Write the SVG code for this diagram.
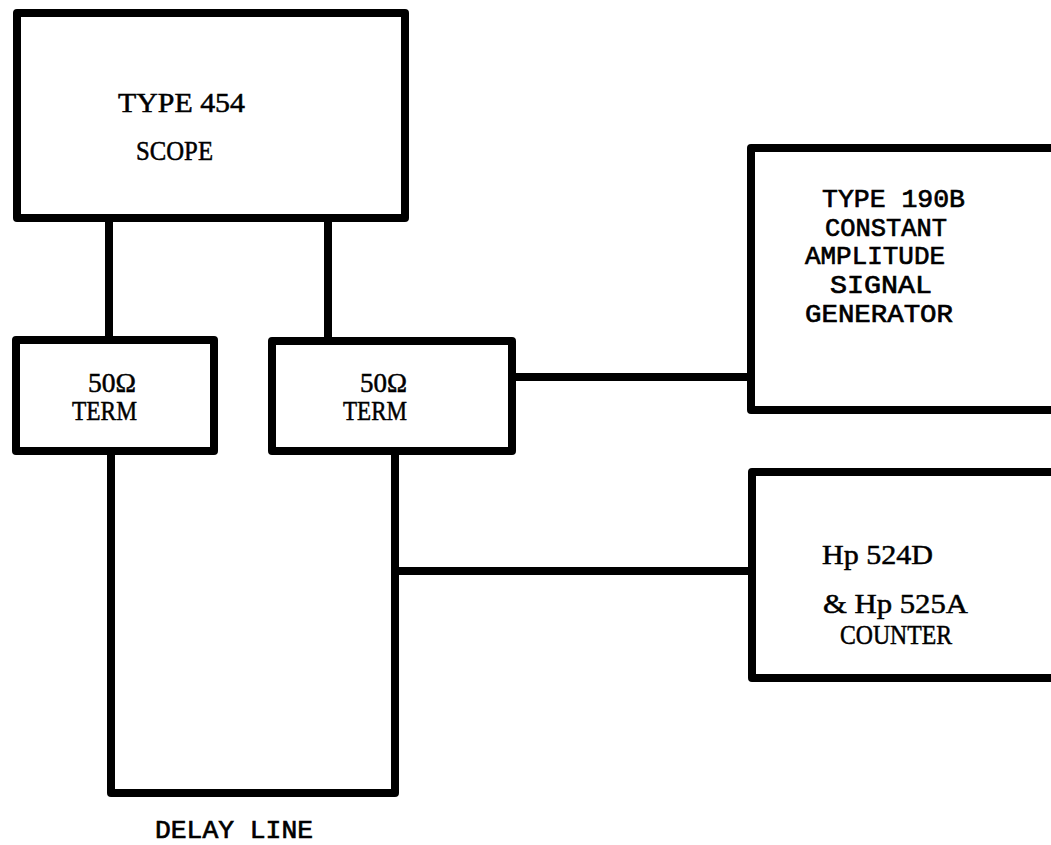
<svg xmlns="http://www.w3.org/2000/svg" width="1051" height="845" viewBox="0 0 1051 845">
  <style>
    .box { fill: none; stroke: #000; stroke-width: 8; stroke-linejoin: round; }
    .wire { fill: none; stroke: #000; stroke-width: 8; stroke-linejoin: round; }
    .serif { font-family: "Liberation Serif", "Times New Roman", serif; font-size: 27px; fill: #000; stroke: #000; stroke-width: 0.5; }
    .mono { font-family: "Liberation Mono", "Courier New", monospace; font-size: 26px; fill: #000; stroke: #000; stroke-width: 0.7; }
  </style>
  <rect x="0" y="0" width="1051" height="845" fill="#fff"/>
  <g id="connectors">
    <path class="wire" d="M109,218 V340"/>
    <path class="wire" d="M328,218 V341"/>
    <path class="wire" d="M512,377 H751"/>
    <path class="wire" d="M111,451 V793 H395 V451"/>
    <path class="wire" d="M395,571 H752"/>
  </g>
  <g id="scope">
    <rect class="box" x="17" y="13" width="388" height="205"/>
    <text class="serif" x="118" y="112" font-size="28" textLength="127" lengthAdjust="spacingAndGlyphs">TYPE 454</text>
    <text class="serif" x="136" y="160" font-size="30" textLength="77" lengthAdjust="spacingAndGlyphs">SCOPE</text>
  </g>
  <g id="term1">
    <rect class="box" x="16" y="340" width="198" height="111"/>
    <text class="serif" x="88" y="392" font-size="23" textLength="48" lengthAdjust="spacingAndGlyphs">50Ω</text>
    <text class="serif" x="72" y="420" font-size="23" textLength="65" lengthAdjust="spacingAndGlyphs">TERM</text>
  </g>
  <g id="term2">
    <rect class="box" x="272" y="341" width="240" height="110"/>
    <text class="serif" x="360" y="392" font-size="23" textLength="47" lengthAdjust="spacingAndGlyphs">50Ω</text>
    <text class="serif" x="343" y="420" font-size="23" textLength="64" lengthAdjust="spacingAndGlyphs">TERM</text>
  </g>
  <g id="generator">
    <rect class="box" x="751" y="148" width="320" height="262"/>
    <text class="mono" x="822" y="207" textLength="143" lengthAdjust="spacingAndGlyphs">TYPE 190B</text>
    <text class="mono" x="825" y="236" textLength="122" lengthAdjust="spacingAndGlyphs">CONSTANT</text>
    <text class="mono" x="805" y="264" textLength="140" lengthAdjust="spacingAndGlyphs">AMPLITUDE</text>
    <text class="mono" x="830" y="293" textLength="102" lengthAdjust="spacingAndGlyphs">SIGNAL</text>
    <text class="mono" x="805" y="322" textLength="148" lengthAdjust="spacingAndGlyphs">GENERATOR</text>
  </g>
  <g id="counter">
    <rect class="box" x="752" y="472" width="320" height="206"/>
    <text class="serif" x="822" y="564" textLength="111" lengthAdjust="spacingAndGlyphs">Hp 524D</text>
    <text class="serif" x="823" y="613" textLength="145" lengthAdjust="spacingAndGlyphs">&amp; Hp 525A</text>
    <text class="serif" x="840" y="644" textLength="112" lengthAdjust="spacingAndGlyphs">COUNTER</text>
  </g>
  <g id="delay-line-label">
    <text class="mono" x="155" y="838" textLength="158" lengthAdjust="spacingAndGlyphs">DELAY LINE</text>
  </g>
</svg>
